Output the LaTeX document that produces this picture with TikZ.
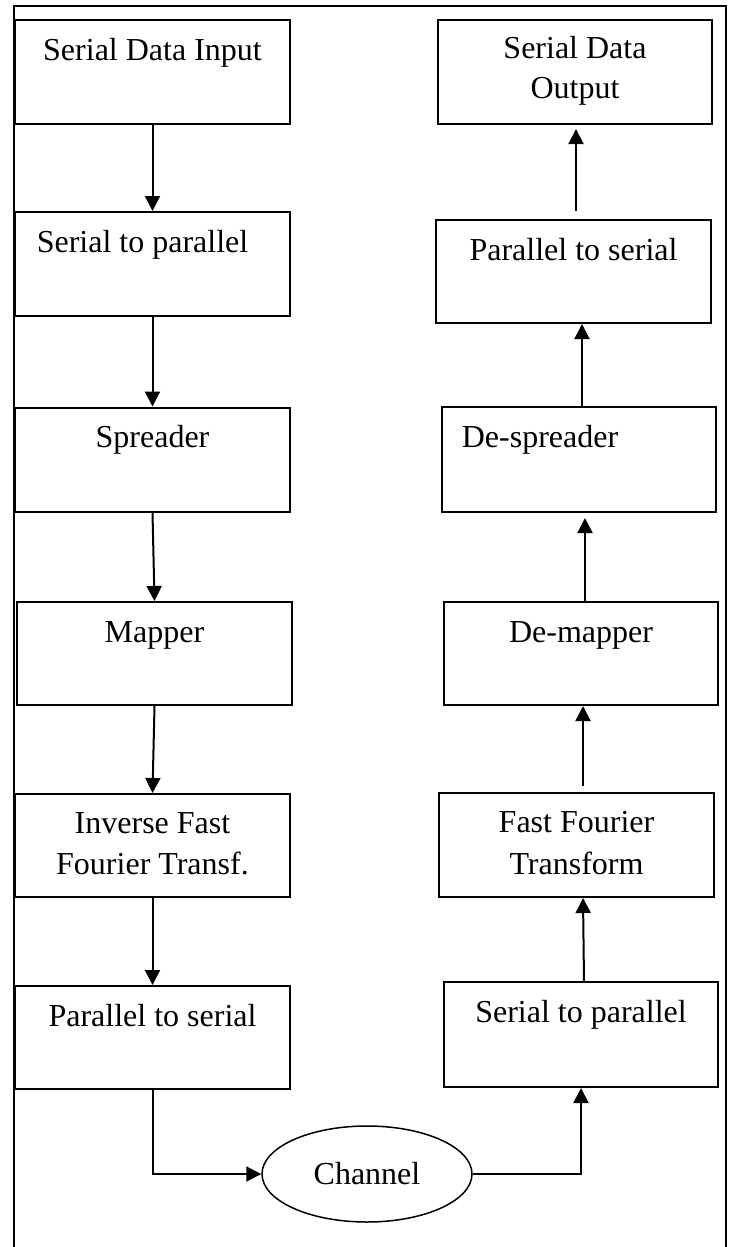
\documentclass[tikz,border=0pt]{standalone}
\usepackage{fontspec}
\setmainfont{Liberation Serif}
\usetikzlibrary{arrows.meta,shapes.geometric}
\begin{document}
\begin{tikzpicture}
			[x=1pt,y=-1pt,
			blk/.style={rectangle,draw,line width=2pt,minimum width=275pt,minimum height=104pt},
			txt/.style={anchor=base,yshift=-41pt,inner sep=0pt,font=\fontsize{32}{41}\selectfont},
			txtb/.style={anchor=base,yshift=-40pt,inner sep=0pt,font=\fontsize{32}{41}\selectfont},
			txtc/.style={anchor=base,yshift=-81pt,inner sep=0pt,font=\fontsize{32}{41}\selectfont},
			flow/.style={line width=2pt,-{Triangle[length=15pt,width=15pt]}},
			>=latex]
			\useasboundingbox (0,0) rectangle (732,1247);
			\draw[line width=2pt] (14,1247) -- (14,6) -- (726,6) -- (726,1247);
			% transmitter
			\node[blk,name=sdi,label={[txt]north:Serial Data Input}] at (152.5,72) {};
			\node[blk,name=stp,label={[txt,xshift=-10pt]north:Serial to parallel}] at (152.5,264) {};
			\node[blk,name=spr,label={[txt]north:Spreader}] at (152.5,459.5) {};
			\node[blk,name=map,minimum height=103pt,label={[txt]north:Mapper}] at (154.5,653.5) {};
			\node[blk,name=ifft,minimum height=103pt,label={[txtb]north:Inverse Fast},label={[txtc]north:Fourier Transf.}] at (152.5,845.5) {};
			\node[blk,name=pts,minimum height=103pt,label={[txt]north:Parallel to serial}] at (152.5,1037.5) {};
			% channel
			\node[ellipse,draw,line width=1.5pt,minimum width=210pt,minimum height=96pt,name=chan,font=\fontsize{32}{41}\selectfont] at (367,1174) {Channel};
			% receiver
			\node[blk,name=rstp,minimum width=274pt,minimum height=105pt,label={[txt]north:Serial to parallel}] at (581,1034.5) {};
			\node[blk,name=fft,minimum height=104pt,label={[txtb]north:Fast Fourier},label={[txtc,yshift=-1pt]north:Transform}] at (576.5,845) {};
			\node[blk,name=demap,minimum width=274pt,minimum height=103pt,label={[txt]north:De-mapper}] at (581,653.5) {};
			\node[blk,name=desp,minimum width=274pt,minimum height=105pt,label={[txt,xshift=-39pt]north:De-spreader}] at (579,459.5) {};
			\node[blk,name=rpts,minimum height=103pt,label={[txt]north:Parallel to serial}] at (573.5,271.5) {};
			\node[blk,name=sdo,minimum width=274pt,label={[txtb]north:Serial Data},label={[txtc,yshift=1pt]north:Output}] at (575,72) {};
			% connectors
			\draw[flow] (sdi.south) -- (stp.north);
			\draw[flow] (stp.south) -- (spr.north);
			\draw[flow] (spr.south) -- (map.north);
			\draw[flow] (map.south) -- (ifft.north);
			\draw[flow] (ifft.south) -- (pts.north);
			\draw[flow] (pts.south) |- (chan.west);
			\draw[flow] (chan.east) -| (rstp.south);
			\draw[flow] ([xshift=3pt]rstp.north) -- ([xshift=6.5pt]fft.south);
			\draw[flow] ([xshift=6.5pt,yshift=6pt]fft.north) -- ([xshift=2pt]demap.south);
			\draw[flow] ([xshift=4pt]demap.north) -- ([xshift=6pt,yshift=-5pt]desp.south);
			\draw[flow] ([xshift=3pt]desp.north) -- ([xshift=8.5pt]rpts.south);
			\draw[flow] ([xshift=2.5pt,yshift=8pt]rpts.north) -- ([xshift=1pt,yshift=-4pt]sdo.south);
		\end{tikzpicture}
\end{document}
